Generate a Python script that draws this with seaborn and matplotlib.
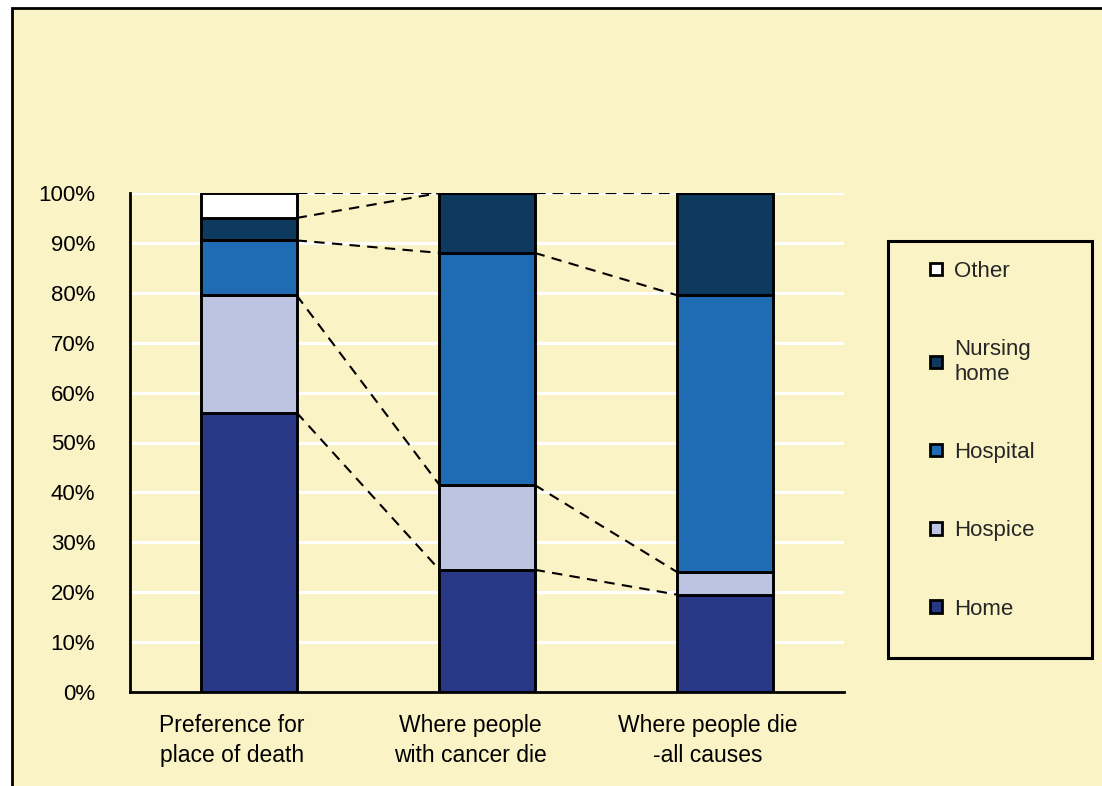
import matplotlib
matplotlib.use("Agg")
import matplotlib.pyplot as plt
import matplotlib.transforms as mtransforms
import seaborn as sns
import numpy as np
from matplotlib.patches import Rectangle, Patch

# ---- data ----
categories = ["Preference for\nplace of death", "Where people\nwith cancer die", "Where people die\n-all causes"]
series_names = ["Home", "Hospice", "Hospital", "Nursing home", "Other"]
home = [56.0, 24.5, 19.5]
hospice = [23.5, 17.0, 4.5]
hospital = [11.0, 46.5, 55.5]
nursing_home = [4.5, 12.0, 20.5]
other = [5.0, 0.0, 0.0]
y_ticks = [0, 10, 20, 30, 40, 50, 60, 70, 80, 90, 100]
y_tick_labels = [f"{v}%" for v in y_ticks]
legend_labels = {"Home": "Home", "Hospice": "Hospice", "Hospital": "Hospital",
                 "Nursing home": "Nursing\nhome", "Other": "Other"}

# ---- style ----
BG = "#FAF3C6"
colors = {"Home": "#283886", "Hospice": "#BCC4E2", "Hospital": "#1F6BB4",
          "Nursing home": "#0D3A5E", "Other": "#FFFFFF"}

sns.set_theme(style="white")
plt.rcParams['font.family'] = ['Liberation Sans', 'DejaVu Sans']
FS = 16

W, H = 1102, 786
fig = plt.figure(figsize=(W / 100, H / 100), dpi=100, facecolor="white")
fig.patches.append(Rectangle((12 / W, -0.05), 1.1, 1 - 8 / H + 0.05, transform=fig.transFigure,
                             facecolor=BG, edgecolor="black", lw=2, zorder=-10))

ax = fig.add_axes([130 / W, 1 - 692 / H, (844 - 130) / W, (692 - 193) / H])
ax.set_facecolor(BG)

values = {"Home": home, "Hospice": hospice, "Hospital": hospital,
          "Nursing home": nursing_home, "Other": other}
bottom = np.zeros(len(categories))
cums = []
for name in series_names:
    vals = np.array(values[name])
    sns.barplot(x=categories, y=vals, bottom=bottom, order=categories, color=colors[name],
                width=0.4, edgecolor="black", linewidth=2.1, errorbar=None, ax=ax,
                saturation=1, zorder=3)
    bottom = bottom + vals
    cums.append(bottom.copy())

# series (connector) lines between bars
for c in cums:
    for i in range(len(categories) - 1):
        ax.plot([i + 0.2, i + 0.8], [c[i], c[i + 1]], color="black", lw=1.5,
                linestyle=(0, (5, 3.5)), zorder=2)

ax.set_xlim(-0.5, 2.5)
ax.set_ylim(0, 100)
ax.set_yticks(y_ticks)
ax.set_yticklabels(y_tick_labels, fontsize=FS)
ax.set_xticks(range(len(categories)))
ax.set_xticklabels(categories, fontsize=16.5, linespacing=1.4)
ax.set_xticks([-0.5, 0.5, 1.5, 2.5], minor=True)
ax.tick_params(axis="x", which="major", length=0, pad=16, colors="black")
ax.tick_params(axis="x", which="minor", length=6, width=2, direction="out", color="black")
ax.tick_params(axis="y", length=6, width=2, direction="out", color="black", pad=19, labelcolor="black")
ax.set_xlabel("")
ax.set_ylabel("")
shift = mtransforms.ScaledTranslation(-17 / 100, 0, fig.dpi_scale_trans)
for lbl in ax.get_xticklabels():
    lbl.set_transform(lbl.get_transform() + shift)

ax.yaxis.grid(True, color="white", lw=2.2, zorder=0)
ax.xaxis.grid(False)
ax.set_axisbelow(True)
for s in ["top", "right"]:
    ax.spines[s].set_visible(False)
for s in ["left", "bottom"]:
    ax.spines[s].set_color("black")
    ax.spines[s].set_linewidth(2)
    ax.spines[s].set_zorder(5)

# legend
fig.patches.append(Rectangle((888 / W, 1 - 658 / H), (1092 - 888) / W, (658 - 241) / H,
                             transform=fig.transFigure, facecolor=BG, edgecolor="black",
                             lw=2.2, zorder=-5))
handles = [Patch(facecolor=colors[n], edgecolor="black", lw=2) for n in reversed(series_names)]
labels = [legend_labels[n] for n in reversed(series_names)]
fig.legend(handles, labels, loc="upper left", bbox_to_anchor=(930 / W, 1 - 261 / H),
           frameon=False, fontsize=FS, handlelength=0.55, handleheight=0.5,
           handletextpad=0.55, labelspacing=2.58, borderpad=0, borderaxespad=0)

fig.savefig("out.png", dpi=100, facecolor=fig.get_facecolor())
